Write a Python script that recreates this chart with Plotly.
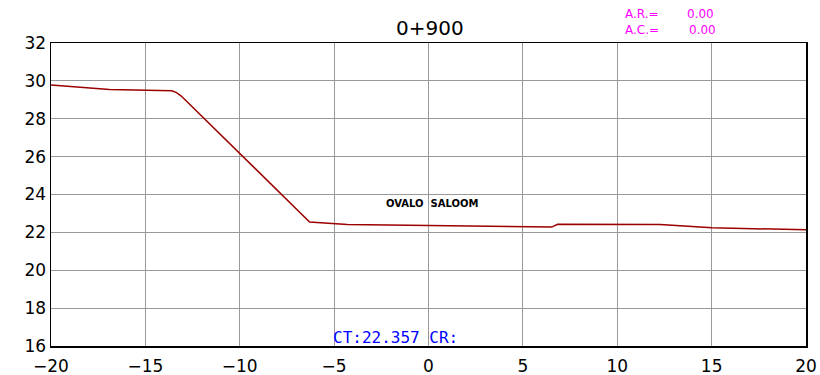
import plotly.graph_objects as go

# Ground profile (offset, elevation)
offsets = [-20.0, -16.9, -13.6, -13.35, -13.1, -6.3, -4.3, -0.3, 5.0, 6.53, 6.84, 12.27, 15.02, 20.0]
elevations = [29.78, 29.54, 29.48, 29.38, 29.2, 22.55, 22.42, 22.38, 22.32, 22.28, 22.43, 22.42, 22.24, 22.14]

x_ticks = [-20, -15, -10, -5, 0, 5, 10, 15, 20]
y_ticks = [16, 18, 20, 22, 24, 26, 28, 30, 32]

title_text = "0+900"
label_text = "OVALO  SALOOM"
ct_text = "CT:22.357 CR:"

L, R, T, B = 51, 14, 43, 29
W, H = 820, 375
pw, ph = W - L - R, H - T - B

fig = go.Figure()
fig.add_trace(go.Scatter(x=offsets, y=elevations, mode="lines",
                         line=dict(color="#9b0000", width=1.5), hoverinfo="skip"))

fig.update_layout(
    width=W, height=H,
    margin=dict(l=L, r=R, t=T, b=B, autoexpand=False),
    paper_bgcolor="white", plot_bgcolor="white",
    showlegend=False,
    font=dict(family="DejaVu Sans", color="black"),
)
fig.update_xaxes(range=[-20, 20], tickvals=x_ticks, showgrid=True, gridcolor="#999999", gridwidth=1,
                 showline=True, linecolor="black", linewidth=1.5, mirror=True, zeroline=False,
                 ticks="", automargin=False, ticklabelstandoff=4, tickfont=dict(size=17, color="black"))
fig.update_yaxes(range=[16, 32], tickvals=y_ticks, showgrid=True, gridcolor="#999999", gridwidth=1,
                 showline=True, linecolor="black", linewidth=1.5, mirror=True, zeroline=False,
                 ticks="", automargin=False, tickfont=dict(size=17, color="black"))

def px_x(xp):
    return (xp - L) / pw

def px_y(yp):
    return (H - B - yp) / ph

fig.add_annotation(x=px_x(430), y=px_y(28), xref="paper", yref="paper", text=title_text, showarrow=False,
                   xanchor="center", yanchor="middle", font=dict(size=20, color="black", family="DejaVu Sans"))

fig.add_annotation(x=0.2, y=23.5, xref="x", yref="y", text="<b>" + label_text + "</b>", showarrow=False,
                   font=dict(size=10, color="black", family="DejaVu Sans"), xanchor="center", yanchor="middle")
fig.add_annotation(x=-5.0, y=16.0, xref="x", yref="y", text=ct_text, showarrow=False,
                   font=dict(size=16, color="#0000ff", family="DejaVu Sans Mono"), xanchor="left", yanchor="bottom",
                   xshift=-3, yshift=-3)

for txt, xpx, ypx in [("A.R.=", 625, 14), ("0.00", 687, 14), ("A.C.=", 625, 30), ("0.00", 689, 30)]:
    fig.add_annotation(x=px_x(xpx), y=px_y(ypx), xref="paper", yref="paper",
                       text=txt, showarrow=False, xanchor="left", yanchor="middle", xshift=-2,
                       font=dict(size=12, color="#ff00ff", family="DejaVu Sans"))

fig.write_html("out.html",
               config={"displayModeBar": False, "staticPlot": True},
               post_script="document.body.style.margin='0';document.body.style.overflow='hidden';")
